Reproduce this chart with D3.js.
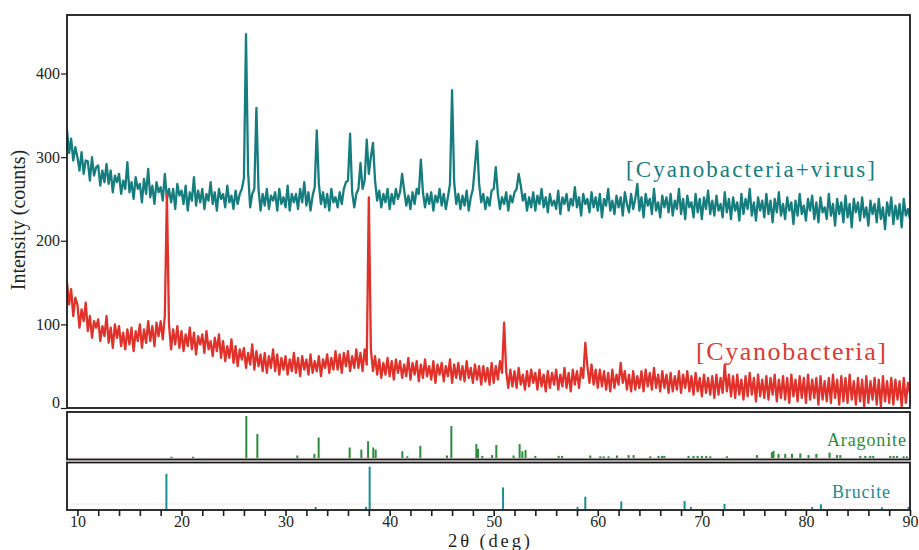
<!DOCTYPE html>
<html>
<head>
<meta charset="utf-8">
<script src="https://cdn.jsdelivr.net/npm/d3@7"></script>
<style>
body { margin: 0; background: #fff; }
text { font-family: "Liberation Serif", "Times New Roman", serif; }
</style>
</head>
<body>
<div id="chart"></div>
<script>
// 2theta grid of both scans: 9.0 .. 90.0 deg, step 0.2
var thetaStart = 9, thetaStep = 0.2;

// [Cyanobacteria+virus] counts, one row = one degree
var virusCounts = [
  332,305,322,296,312, 300,284,306,280,296, 295,272,300,278,288, 290,266,284,270,292,
  268,284,258,278,270, 280,256,272,262,294, 258,270,250,276,262, 268,246,274,256,286,
  252,266,244,270,258, 264,248,280,250,262, 246,262,238,268,254, 260,244,266,236,258,
  248,276,242,260,246, 262,238,256,248,270, 244,258,236,262,250, 256,240,266,246,254,
  238,260,244,256,262, 275,447,282,240,256, 262,359,262,236,256, 242,262,238,254,248,
  258,236,262,244,252, 240,266,236,256,246, 256,238,262,246,270, 242,258,236,254,264,
  332,268,244,258,240, 256,236,262,246,252, 240,258,244,262,270, 272,328,258,240,256,
  262,293,262,272,321, 280,300,317,272,248, 260,240,256,246,262, 238,256,244,262,250,
  258,280,260,242,254, 238,258,244,262,256, 297,258,240,256,244, 258,236,254,246,262,
  242,256,238,252,268, 380,270,244,256,238, 254,242,260,236,252, 262,290,319,268,246,
  256,238,252,242,260, 262,288,256,238,252, 244,258,236,254,246, 258,262,280,266,248,
  256,236,252,240,258, 236,254,244,262,240, 252,234,256,242,248, 238,260,232,252,244,
  256,236,250,242,264, 240,252,230,256,244, 250,234,258,240,252, 236,256,228,250,242,
  262,236,248,232,254, 240,252,230,258,244, 234,256,238,250,268, 236,252,228,256,242,
  250,232,262,236,246, 228,254,240,252,234, 256,230,248,238,262, 232,250,226,254,240,
  246,228,256,234,250, 226,252,238,260,232, 248,230,254,236,244, 228,258,234,250,226,
  252,236,246,224,256, 232,250,238,262,230, 246,224,252,236,248, 228,256,232,248,222,
  250,234,258,230,244, 226,252,236,246,220, 248,230,256,232,242, 224,250,236,254,226,
  246,222,252,234,240, 226,256,230,244,218, 250,232,246,222,254, 228,244,216,250,234,
  246,224,252,228,240, 218,248,232,244,222, 250,226,240,214,246, 230,252,220,242,226,
  244,216,250,230,238, 226
];

// [Cyanobacteria] counts, one row = one degree
var cyanoCounts = [
  150,124,142,110,132, 124,96,118,104,126, 92,110,84,104,96, 106,80,98,86,110,
  78,96,72,100,84, 98,74,90,70,94, 76,96,68,92,80, 100,72,94,78,104,
  80,98,74,102,86, 104,82,110,256,100, 70,94,76,98,72, 92,68,88,74,96,
  70,90,64,86,76, 88,66,92,70,80, 62,84,68,88,60, 80,56,74,60,82,
  54,74,50,70,58, 72,48,66,52,76, 46,68,50,64,44, 66,42,62,48,70,
  44,64,40,60,46, 62,40,58,44,66, 42,60,38,62,46, 58,40,64,42,56,
  44,62,38,58,48, 64,42,60,46,68, 46,64,42,66,50, 68,44,62,48,70,
  48,66,44,70,52, 252,70,44,62,40, 58,36,54,40,60, 38,56,34,58,42,
  56,36,52,38,60, 34,54,40,56,32, 52,36,58,38,50, 34,56,30,52,40,
  54,32,50,38,58, 30,52,36,54,34, 50,32,56,36,48, 30,52,34,50,28,
  50,32,48,28,54, 30,50,34,56,42, 102,44,24,46,26, 44,24,48,28,40,
  22,44,26,46,30, 42,22,46,26,40, 20,44,24,42,28, 46,22,40,26,48,
  24,42,20,46,28, 44,24,48,36,78, 50,30,52,28,46, 24,46,26,44,22,
  42,20,46,24,40, 28,54,30,44,22, 40,20,44,22,38, 24,44,20,46,26,
  42,22,48,24,40, 20,44,24,40,18, 42,20,38,22,44, 18,40,24,44,20,
  38,16,42,20,36, 14,40,18,36,16, 38,12,40,16,36, 18,52,20,40,14,
  38,12,40,16,34, 10,38,14,42,16, 36,8,40,14,34, 12,38,10,36,16,
  40,8,34,12,38, 10,36,6,40,14, 34,8,38,12,36, 6,40,10,34,12,
  36,4,38,10,32, 8,36,6,40,12, 34,4,38,8,36, 6,40,10,32,4,
  36,8,34,2,38, 6,32,10,36,4, 34,2,38,8,32, 6,36,4,34,10,
  32,2,36,6,30, 18
];

// reference patterns: [2theta, relative intensity %]
var aragonite = [
  [19.03,3],[21.11,3],[26.23,100],[27.29,57],[31.13,6],[32.77,10],[33.18,49],[36.16,25],
  [37.28,20],[37.93,40],[38.43,25],[38.66,20],[41.22,16],[41.7,4],[42.95,29],[45.51,6],
  [45.93,76],[48.33,33],[48.49,22],[48.9,5],[49.84,7],[50.25,31],[51.91,6],[52.49,33],
  [52.75,16],[53.06,19],[54.0,5],[56.24,5],[56.56,5],[59.28,6],[60.24,4],[60.56,4],
  [61.04,4],[61.84,6],[62.96,7],[63.44,7],[65.04,4],[65.84,5],[66.17,5],[66.39,5],
  [68.72,5],[69.2,5],[69.59,5],[70.01,5],[70.42,5],[70.81,4],[72.41,4],[75.29,7],
  [76.73,14],[76.89,17],[77.37,10],[78.01,10],[78.66,10],[79.46,11],[80.25,7],[81.0,10],
  [82.27,13],[82.98,7],[83.3,7],[85.22,5],[85.7,5],[86.18,5],[86.47,5],[88.1,5],
  [88.42,5],[88.74,5],[89.38,4],[89.7,4]
];
var brucite = [
  [18.55,83],[32.89,5],[37.73,5],[38.08,100],[50.9,51],[58.06,5],[58.8,29],[62.26,18],
  [68.34,19],[68.95,5],[72.18,12],[80.6,5],[81.44,11],[87.3,4],[89.86,5]
];

var yTicks = [0, 100, 200, 300, 400];
var xTicks = d3.range(10, 91, 2);
var xLabels = [10, 20, 30, 40, 50, 60, 70, 80, 90];

var teal = "#167d7f", red = "#e0322a";

var svg = d3.select("#chart")
    .append("svg")
    .attr("width", 919)
    .attr("height", 550);

var x = d3.scaleLinear().domain([9, 90]).range([67, 910]);
var y = d3.scaleLinear().domain([0, 470]).range([408, 15]);
var yAr = d3.scaleLinear().domain([0, 100]).range([458, 416]);
var yBr = d3.scaleLinear().domain([0, 100]).range([509, 466.7]);

function toPoints(counts) {
    return counts.map(function(c, i) { return [thetaStart + i * thetaStep, c]; });
}

svg.append("clipPath").attr("id", "main-clip")
    .append("rect")
    .attr("x", 67).attr("y", 15)
    .attr("width", 843).attr("height", 393);

var line = d3.line()
    .x(function(d) { return x(d[0]); })
    .y(function(d) { return y(d[1]); });

var plot = svg.append("g").attr("clip-path", "url(#main-clip)");

plot.append("path")
    .datum(toPoints(virusCounts))
    .attr("fill", "none")
    .attr("stroke", teal)
    .attr("stroke-width", 2.3)
    .attr("stroke-linejoin", "round")
    .attr("d", line);

plot.append("path")
    .datum(toPoints(cyanoCounts))
    .attr("fill", "none")
    .attr("stroke", red)
    .attr("stroke-width", 2.3)
    .attr("stroke-linejoin", "round")
    .attr("d", line);

// faint baselines in the reference panels
svg.append("line").attr("x1", 68).attr("x2", 909).attr("y1", yAr(0)).attr("y2", yAr(0))
    .attr("stroke", "#f4dcd6").attr("stroke-width", 1);
svg.append("line").attr("x1", 68).attr("x2", 909).attr("y1", 504).attr("y2", 504)
    .attr("stroke", "#f8e8e4").attr("stroke-width", 1);

svg.append("g").selectAll("line")
    .data(aragonite)
    .enter().append("line")
    .attr("x1", function(d) { return x(d[0]); })
    .attr("x2", function(d) { return x(d[0]); })
    .attr("y1", yAr(0))
    .attr("y2", function(d) { return yAr(d[1]); })
    .attr("stroke", "#2a8c3c")
    .attr("stroke-width", 2);

svg.append("g").selectAll("line")
    .data(brucite)
    .enter().append("line")
    .attr("x1", function(d) { return x(d[0]); })
    .attr("x2", function(d) { return x(d[0]); })
    .attr("y1", yBr(0))
    .attr("y2", function(d) { return yBr(d[1]); })
    .attr("stroke", "#1a8c93")
    .attr("stroke-width", 2);

// frames
[[15, 408], [412, 459.5], [462.5, 510]].forEach(function(p) {
    svg.append("rect")
        .attr("x", 67).attr("y", p[0])
        .attr("width", 843).attr("height", p[1] - p[0])
        .attr("fill", "none")
        .attr("stroke", "#1a1a1a")
        .attr("stroke-width", 1.8);
});

var yAxis = svg.append("g")
    .attr("transform", "translate(67,0)")
    .call(d3.axisLeft(y).tickValues(yTicks).tickSize(6).tickPadding(1));
yAxis.select(".domain").remove();
yAxis.selectAll("line").attr("stroke", "#1a1a1a").attr("stroke-width", 1.2);
yAxis.selectAll("text")
    .attr("fill", "#231f20")
    .style("font-size", "16px")
    .attr("dy", function(d) { return d === 0 ? "-0.05em" : "0.32em"; });

var xAxis = svg.append("g")
    .attr("transform", "translate(0,510)")
    .call(d3.axisBottom(x).tickValues(xTicks).tickSize(6).tickPadding(0)
        .tickFormat(function(d) { return xLabels.indexOf(d) >= 0 ? d : ""; }));
xAxis.select(".domain").remove();
xAxis.selectAll("line").attr("stroke", "#1a1a1a").attr("stroke-width", 1.6);
xAxis.selectAll("text")
    .attr("fill", "#231f20")
    .style("font-size", "16px");

svg.append("text")
    .attr("transform", "translate(25,220) rotate(-90)")
    .attr("text-anchor", "middle")
    .attr("fill", "#231f20")
    .style("font-size", "20px")
    .text("Intensity (counts)");

svg.append("text")
    .attr("x", 448).attr("y", 546.5)
    .attr("fill", "#231f20")
    .style("font-size", "18.5px")
    .attr("textLength", 82)
    .attr("lengthAdjust", "spacing")
    .text("2\u03b8 (deg)");

svg.append("text")
    .attr("x", 626).attr("y", 177)
    .attr("fill", teal)
    .style("font-size", "23px")
    .attr("textLength", 249)
    .attr("lengthAdjust", "spacing")
    .text("[Cyanobacteria+virus]");

svg.append("text")
    .attr("x", 696).attr("y", 360)
    .attr("fill", "#dc3a31")
    .style("font-size", "26px")
    .attr("textLength", 190)
    .attr("lengthAdjust", "spacing")
    .text("[Cyanobacteria]");

svg.append("text")
    .attr("x", 827).attr("y", 446)
    .attr("fill", "#2a8c3c")
    .style("font-size", "18px")
    .attr("textLength", 79)
    .attr("lengthAdjust", "spacing")
    .text("Aragonite");

svg.append("text")
    .attr("x", 832).attr("y", 498)
    .attr("fill", "#1a8c93")
    .style("font-size", "18px")
    .attr("textLength", 58)
    .attr("lengthAdjust", "spacing")
    .text("Brucite");
</script>
</body>
</html>
